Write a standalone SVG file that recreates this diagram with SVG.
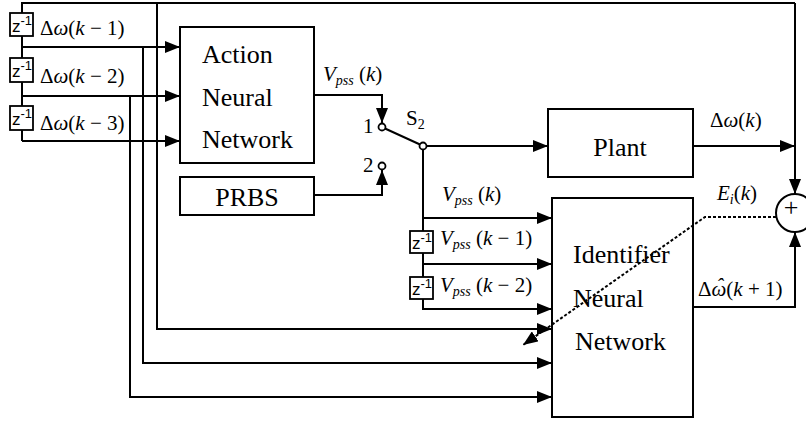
<svg xmlns="http://www.w3.org/2000/svg" width="806" height="422" viewBox="0 0 806 422">
  <defs>
    <marker id="arr" markerUnits="userSpaceOnUse" markerWidth="15" markerHeight="12" refX="15" refY="6" orient="auto" viewBox="0 0 15 12">
      <path d="M0,0 L15,6 L0,12 z" fill="#000" stroke="none"/>
    </marker>
    <style>
      .box { fill: #fff; stroke: #000; stroke-width: 2; }
      .open { fill: none; stroke: #000; stroke-width: 2; }
      .dly { fill: #fff; stroke: #000; stroke-width: 1.8; }
      .ln { fill: none; stroke: #000; stroke-width: 2; }
      .a { marker-end: url(#arr); }
      .dash { fill: none; stroke: #000; stroke-width: 2; stroke-dasharray: 3 2; }
      .big { font-family: "Liberation Serif", "Times New Roman", serif; font-size: 26px; fill: #000; }
      .lbl { font-family: "Liberation Serif", "Times New Roman", serif; font-size: 21px; fill: #000; }
      .it { font-style: italic; }
      .z { font-family: "Liberation Sans", Arial, sans-serif; font-size: 17px; fill: #000; }
      .sw { fill: #fff; stroke: #000; stroke-width: 1.8; }
    </style>
  </defs>

  <g id="connectors">
    <!-- delay chain on the left -->
    <polyline class="ln" points="795,3 22,3 22,141"/>
    <line class="ln a" x1="22" y1="47" x2="180" y2="47"/>
    <line class="ln a" x1="22" y1="96" x2="180" y2="96"/>
    <line class="ln a" x1="22" y1="141" x2="180" y2="141"/>
    <!-- speed history into the identifier -->
    <polyline class="ln a" points="157,3 157,329 552,329"/>
    <polyline class="ln a" points="143,47 143,363 552,363"/>
    <polyline class="ln a" points="130,96 130,397 552,397"/>
    <!-- controller output and PRBS to the switch -->
    <polyline class="ln a" points="314,95 382,95 382,123"/>
    <polyline class="ln a" points="314,195 382,195 382,170"/>
    <!-- switch S2 -->
    <line class="ln" x1="385" y1="128.5" x2="420" y2="144.5"/>
    <circle class="sw" cx="382" cy="127" r="3.5"/>
    <circle class="sw" cx="382" cy="166" r="3.5"/>
    <!-- switch output to plant and identifier -->
    <line class="ln a" x1="426" y1="146" x2="548" y2="146"/>
    <line class="ln" x1="423" y1="149" x2="423" y2="309"/>
    <line class="ln a" x1="423" y1="218" x2="552" y2="218"/>
    <line class="ln a" x1="423" y1="264" x2="552" y2="264"/>
    <line class="ln a" x1="422" y1="309" x2="552" y2="309"/>
    <circle class="sw" cx="423" cy="146" r="3.5"/>
    <!-- plant output and feedback -->
    <line class="ln a" x1="693" y1="146" x2="795" y2="146"/>
    <line class="ln a" x1="795" y1="3" x2="795" y2="194"/>
    <polyline class="ln a" points="693,307 795,307 795,232"/>
  </g>

  <!-- unit delays on the speed deviation line -->
  <g id="delay-w1">
    <rect class="dly" x="10" y="13" width="23" height="23"/>
    <text class="z" x="12" y="32">z<tspan font-size="13" dy="-7">-1</tspan></text>
  </g>
  <g id="delay-w2">
    <rect class="dly" x="10" y="58" width="23" height="24"/>
    <text class="z" x="12" y="77">z<tspan font-size="13" dy="-7">-1</tspan></text>
  </g>
  <g id="delay-w3">
    <rect class="dly" x="10" y="106" width="23" height="24"/>
    <text class="z" x="12" y="125">z<tspan font-size="13" dy="-7">-1</tspan></text>
  </g>

  <g id="action-nn">
    <rect class="box" x="180" y="27" width="134" height="136"/>
    <text class="big" x="202" y="63">Action</text>
    <text class="big" x="202" y="106">Neural</text>
    <text class="big" x="202" y="148">Network</text>
  </g>

  <g id="prbs">
    <rect class="box" x="180" y="177" width="134" height="38"/>
    <text class="big" x="247" y="206" text-anchor="middle">PRBS</text>
  </g>

  <g id="plant">
    <rect class="box" x="548" y="109" width="145" height="68"/>
    <text class="big" x="620" y="156" text-anchor="middle">Plant</text>
  </g>

  <g id="identifier-nn">
    <rect class="open" x="552" y="198" width="141" height="219"/>
    <text class="big" x="573" y="263">Identifier</text>
    <text class="big" x="573" y="307">Neural</text>
    <text class="big" x="575" y="350">Network</text>
  </g>

  <g id="delay-v1">
    <rect class="dly" x="410" y="231" width="23" height="22"/>
    <text class="z" x="412" y="249">z<tspan font-size="13" dy="-7">-1</tspan></text>
  </g>
  <g id="delay-v2">
    <rect class="dly" x="410" y="277" width="23" height="22"/>
    <text class="z" x="412" y="295">z<tspan font-size="13" dy="-7">-1</tspan></text>
  </g>

  <g id="sum">
    <circle class="box" cx="795" cy="213" r="19"/>
    <text class="big" x="791" y="216" text-anchor="middle">+</text>
  </g>

  <g id="error-path">
    <!-- identification error fed back across the identifier -->
    <polyline class="dash a" points="776,217 705,217 523,345"/>
  </g>

  <g id="labels">
    <text class="lbl" x="40" y="35">Δ<tspan class="it">ω</tspan>(<tspan class="it">k</tspan> − 1)</text>
    <text class="lbl" x="40" y="83">Δ<tspan class="it">ω</tspan>(<tspan class="it">k</tspan> − 2)</text>
    <text class="lbl" x="40" y="130">Δ<tspan class="it">ω</tspan>(<tspan class="it">k</tspan> − 3)</text>
    <text class="lbl" x="323" y="81"><tspan class="it">V</tspan><tspan class="it" font-size="14" dy="4">pss</tspan><tspan dy="-4"> (</tspan><tspan class="it">k</tspan>)</text>
    <text class="lbl" x="363" y="133">1</text>
    <text class="lbl" x="363" y="172">2</text>
    <text class="lbl" x="406" y="125">S<tspan font-size="14" dy="4">2</tspan></text>
    <text class="lbl" x="710" y="127">Δ<tspan class="it">ω</tspan>(<tspan class="it">k</tspan>)</text>
    <text class="lbl" x="717" y="200"><tspan class="it">E</tspan><tspan class="it" font-size="14" dy="4">i</tspan><tspan dy="-4">(</tspan><tspan class="it">k</tspan>)</text>
    <text class="lbl" x="698" y="296">Δ<tspan class="it">ω</tspan><tspan class="it" dx="-10" dy="-3">ˆ</tspan><tspan dx="3" dy="3">(</tspan><tspan class="it">k</tspan> + 1)</text>
    <text class="lbl" x="442" y="201"><tspan class="it">V</tspan><tspan class="it" font-size="14" dy="4">pss</tspan><tspan dy="-4"> (</tspan><tspan class="it">k</tspan>)</text>
    <text class="lbl" x="440" y="245"><tspan class="it">V</tspan><tspan class="it" font-size="14" dy="4">pss</tspan><tspan dy="-4"> (</tspan><tspan class="it">k</tspan> − 1)</text>
    <text class="lbl" x="440" y="292"><tspan class="it">V</tspan><tspan class="it" font-size="14" dy="4">pss</tspan><tspan dy="-4"> (</tspan><tspan class="it">k</tspan> − 2)</text>
  </g>
</svg>
